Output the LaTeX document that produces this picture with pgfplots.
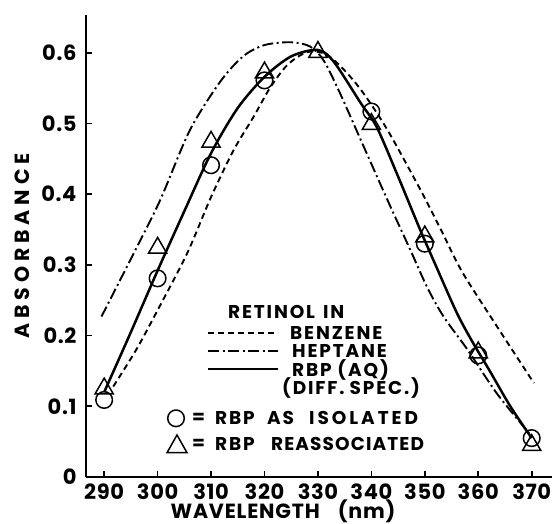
\documentclass[border=0pt]{standalone}
\usepackage{fontspec}
\setmainfont{Poppins}
\usepackage{pgfplots}
\pgfplotsset{compat=1.18}
\tikzset{
  benz/.style={line width=1.9pt, dash pattern=on 6pt off 4pt},
  hept/.style={line width=1.9pt, dash pattern=on 11pt off 3.5pt on 2pt off 3.5pt},
  rbp/.style={line width=2.5pt},
}
\begin{document}
\begin{tikzpicture}
\path[use as bounding box] (-86pt,-47pt) rectangle (468pt,477pt);
\begin{axis}[
  scale only axis, width=466pt, height=462pt,
  xmin=286.6, xmax=373.8, ymin=0, ymax=0.6535,
  axis lines=left, axis line style={-, line width=1.7pt},
  xtick={290,300,310,320,330,340,350,360,370},
  ytick={0,0.1,0.2,0.3,0.4,0.5,0.6},
  yticklabels={0,0.1,0.2,0.3,0.4,0.5,0.6},
  tick align=inside, major tick length=6pt,
  tick style={line width=1.7pt, black},
  ticklabel style={font=\fontsize{21}{21}\selectfont\bfseries\addfontfeature{LetterSpace=3}},
  /pgf/number format/assume math mode=true,
  xticklabel style={yshift=-3pt},
  yticklabel style={xshift=-6pt},
  clip=false,
]
% Benzene
\addplot[benz, smooth, no marks] coordinates {
(291.7,0.128) (296,0.18) (300,0.236) (305.5,0.316) (310,0.396) (314.2,0.462)
(318,0.51) (321,0.55) (324.3,0.583) (328,0.601) (331.5,0.598) (335,0.575)
(338.5,0.543) (343,0.491) (349.2,0.406) (353,0.35) (357,0.29) (363.5,0.213) (370.4,0.133)};
% Heptane
\addplot[hept, smooth, no marks] coordinates {
(289.5,0.227) (295.5,0.316) (300.5,0.392) (306,0.49) (311.7,0.559) (316,0.595)
(320,0.611) (325,0.615) (328.5,0.609) (331,0.59) (334,0.545) (338,0.477)
(343,0.392) (347.3,0.321) (350.4,0.269) (353.5,0.227) (358,0.18) (363.5,0.118) (369.5,0.062)};
% RBP (AQ)
\addplot[rbp, smooth, no marks] coordinates {
(290,0.12) (295,0.205) (300,0.292) (305,0.376) (310,0.458) (315,0.522) (320,0.566)
(325,0.595) (330,0.604) (333,0.587) (338,0.529) (341,0.495) (345,0.425) (349,0.352)
(352,0.300) (356,0.232) (359,0.190) (362,0.152) (366,0.100) (370,0.055)};
% circles: RBP as isolated
\addplot[only marks, mark=o, mark size=8.3pt, mark options={line width=1.5pt, fill=white}] coordinates {
(290,0.109) (300,0.281) (310,0.441) (320,0.561) (340,0.517) (350,0.330) (360,0.172) (370,0.055)};
% triangles: RBP reassociated
\addplot[only marks, mark=triangle, mark size=10.5pt, mark options={line width=1.5pt, fill=white}] coordinates {
(290,0.125) (300,0.324) (310,0.474) (320,0.572) (330,0.601) (340,0.499) (350,0.340) (360,0.176) (370,0.045)};
\end{axis}
% axis labels
\node[rotate=90, font=\fontsize{20.5}{20.5}\selectfont\bfseries\addfontfeature{LetterSpace=24}] at (-64pt,231pt) {ABSORBANCE};
\node[font=\fontsize{20.5}{20.5}\selectfont\bfseries\addfontfeature{LetterSpace=4}] at (197pt,-34pt) {WAVELENGTH\hspace{18pt}(nm)};
% legend
\begin{scope}[every node/.style={anchor=west, inner sep=0pt, font=\fontsize{18.5}{18.5}\selectfont\bfseries\addfontfeature{LetterSpace=10}}]
\node at (142pt,165pt) {RETINOL\hspace{8pt}IN};
\draw[benz] (122pt,144pt) -- (192pt,144pt);
\node at (204pt,144pt) {BENZENE};
\draw[hept] (122pt,126pt) -- (192pt,126pt);
\node at (206pt,126pt) {HEPTANE};
\draw[rbp] (122pt,108pt) -- (192pt,108pt);
\node at (206pt,107pt) {RBP (AQ)};
\node at (196pt,89pt) {(DIFF.\hspace{5pt}SPEC.)};
\draw[line width=1.5pt] (90pt,58.7pt) circle (8.3pt);
\node at (106pt,58.7pt) {=};
\node at (129pt,58.7pt) {RBP};
\node at (181pt,58.7pt) {AS};
\node[font=\fontsize{18.5}{18.5}\selectfont\bfseries\addfontfeature{LetterSpace=16}] at (223pt,58.7pt) {ISOLATED};
\draw[line width=1.5pt] (81pt,24.3pt) -- (101pt,24.3pt) -- (91pt,42pt) -- cycle;
\node at (106pt,33pt) {=};
\node at (129pt,33pt) {RBP};
\node[font=\fontsize{18.5}{18.5}\selectfont\bfseries\addfontfeature{LetterSpace=6}] at (185pt,33pt) {REASSOCIATED};
\end{scope}
\end{tikzpicture}
\end{document}
